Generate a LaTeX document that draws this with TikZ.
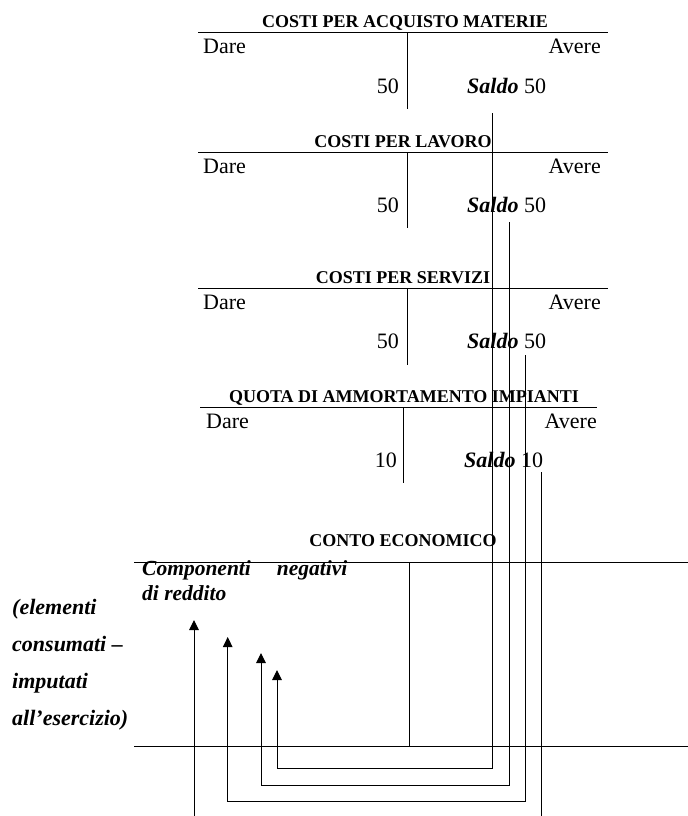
\documentclass[tikz,border=0pt]{standalone}
\usepackage{fontspec}
\setmainfont{Liberation Serif}
\usetikzlibrary{arrows.meta}
\begin{document}
\begin{tikzpicture}[x=1bp,y=-1bp,
  ttitle/.style={font=\fontsize{18bp}{20bp}\selectfont\bfseries, anchor=base, inner sep=0pt},
  body/.style={font=\fontsize{22bp}{24bp}\selectfont, inner sep=0pt},
  bodybi/.style={font=\fontsize{21.5bp}{24bp}\selectfont\bfseries\itshape, inner sep=0pt, anchor=base west},
  rule/.style={line width=1bp},
  conn/.style={line width=1bp},
  arr/.style={-{Triangle[length=10bp,width=9.5bp]}}]
\useasboundingbox (0,0) rectangle (688,816);

% ---- Account 1
\node[ttitle] (t1) at (405,28) {COSTI PER ACQUISTO MATERIE};
\draw[rule] (198,33) -- (608,33);
\draw[rule] (407,33) -- (407,109);
\node[body,anchor=base west] (d1) at (203,54) {Dare};
\node[body,anchor=base east] (a1) at (601,54) {Avere};
\node[body,anchor=base east] (v1) at (399,93) {50};
\node[body,anchor=base west] (s1) at (467,93) {\textbf{\textit{Saldo}} 50};

% ---- Account 2
\node[ttitle] (t2) at (403,147) {COSTI PER LAVORO};
\draw[rule] (198,152) -- (608,152);
\draw[rule] (407,152) -- (407,228);
\node[body,anchor=base west] (d2) at (203,173) {Dare};
\node[body,anchor=base east] (a2) at (601,173) {Avere};
\node[body,anchor=base east] (v2) at (399,212) {50};
\node[body,anchor=base west] (s2) at (467,212) {\textbf{\textit{Saldo}} 50};

% ---- Account 3
\node[ttitle] (t3) at (403,283) {COSTI PER SERVIZI};
\draw[rule] (198,288) -- (608,288);
\draw[rule] (407,288) -- (407,365);
\node[body,anchor=base west] (d3) at (203,309) {Dare};
\node[body,anchor=base east] (a3) at (601,309) {Avere};
\node[body,anchor=base east] (v3) at (399,348) {50};
\node[body,anchor=base west] (s3) at (467,348) {\textbf{\textit{Saldo}} 50};

% ---- Account 4
\node[ttitle] (t4) at (404,402) {QUOTA DI AMMORTAMENTO IMPIANTI};
\draw[rule] (200,407) -- (597,407);
\draw[rule] (403,407) -- (403,483);
\node[body,anchor=base west] (d4) at (206,428) {Dare};
\node[body,anchor=base east] (a4) at (597,428) {Avere};
\node[body,anchor=base east] (v4) at (397,467) {10};
\node[body,anchor=base west] (s4) at (464,467) {\textbf{\textit{Saldo}} 10};

% ---- Conto economico
\node[ttitle] (tce) at (403,546) {CONTO ECONOMICO};
\draw[rule] (134,562) -- (688,562);
\draw[rule] (409,562) -- (409,746);
\draw[rule] (134,746) -- (688,746);
\node[bodybi] (cn1) at (142,575) {Componenti\hspace*{26bp}negativi};
\node[bodybi] (cn2) at (142,600) {di reddito};

\node[bodybi,font=\fontsize{22bp}{24bp}\selectfont\bfseries\itshape] (l1) at (12,614) {(elementi};
\node[bodybi,font=\fontsize{22bp}{24bp}\selectfont\bfseries\itshape] (l2) at (12,651) {consumati –};
\node[bodybi,font=\fontsize{22bp}{24bp}\selectfont\bfseries\itshape] (l3) at (12,688) {imputati};
\node[bodybi,font=\fontsize{22bp}{24bp}\selectfont\bfseries\itshape] (l4) at (12,725) {all’esercizio)};

% ---- connectors
\coordinate (ca) at (492.5,113);
\coordinate (cb) at (509,222);
\coordinate (cc) at (525.7,355);
\coordinate (cd) at (541.7,472);
\coordinate (ea) at (277,670);
\coordinate (eb) at (261,653);
\coordinate (ec) at (227.7,637);
\coordinate (ed) at (194,620);
\coordinate (fd) at (541.7,816);
\coordinate (gd) at (194,816);

\draw[conn,arr] (ca) -- ++(0,655) -| (ea);
\draw[conn,arr] (cb) -- ++(0,563) -| (eb);
\draw[conn,arr] (cc) -- ++(0,446.7) -| (ec);
\draw[conn] (cd) -- (fd);
\draw[conn,arr] (gd) -- (ed);
\end{tikzpicture}
\end{document}
